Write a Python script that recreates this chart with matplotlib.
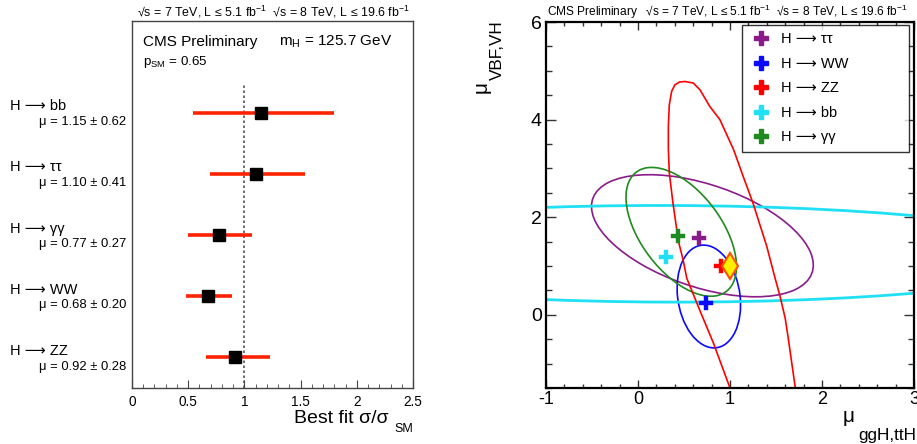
import numpy as np
import matplotlib
matplotlib.use('Agg')
import matplotlib.pyplot as plt
from matplotlib.patches import Ellipse
from matplotlib.lines import Line2D
import matplotlib.transforms as mtransforms
from matplotlib.ticker import MultipleLocator, FormatStrFormatter

plt.rcParams['font.family'] = ['Liberation Sans', 'DejaVu Sans']
plt.rcParams['mathtext.fontset'] = 'custom'
plt.rcParams['mathtext.rm'] = 'Liberation Sans'
plt.rcParams['mathtext.it'] = 'Liberation Sans:italic'
plt.rcParams['mathtext.bf'] = 'Liberation Sans:bold'
plt.rcParams['axes.unicode_minus'] = False

# ---------------- Left panel data ----------------
channels = ['H ⟶ bb', 'H ⟶ ττ', 'H ⟶ γγ', 'H ⟶ WW', 'H ⟶ ZZ']
mu_best = [1.15, 1.10, 0.77, 0.68, 0.92]
mu_err_lo = [0.61, 0.41, 0.27, 0.20, 0.26]
mu_err_hi = [0.65, 0.44, 0.30, 0.21, 0.31]
mu_labels = ['μ = 1.15 ± 0.62', 'μ = 1.10 ± 0.41', 'μ = 0.77 ± 0.27',
             'μ = 0.68 ± 0.20', 'μ = 0.92 ± 0.28']
sm_value = 1.0
x_ticks_left = [0, 0.5, 1, 1.5, 2, 2.5]

# ---------------- Right panel data ----------------
leg_names = ['H ⟶ ττ', 'H ⟶ WW', 'H ⟶ ZZ', 'H ⟶ bb', 'H ⟶ γγ']
leg_colors = ['#8b1a8b', '#0a0aff', '#ff0000', '#20e0f5', '#1f8a1f']
best_ggh = [0.66, 0.74, 0.90, 0.30, 0.44]
best_vbf = [1.57, 0.24, 1.01, 1.19, 1.62]
sm_point = (1.0, 1.0)

# 68% CL contours approximated as ellipses: (x0, y0, width, height, angle)
ell_tautau = (0.70, 1.62, 2.99, 1.77, -47.2)
ell_ww = (0.77, 0.375, 2.11, 0.68, -86.6)
ell_bb = (0.33, 1.25, 8.94, 1.98, -0.3)
ell_gg = (0.47, 1.70, 2.73, 0.98, -74.2)

# H->ZZ contour, read point by point (open at the bottom)
zz_x = [1.00, 0.82, 0.67, 0.53, 0.49, 0.44, 0.38, 0.34, 0.33, 0.33, 0.34,
        0.366, 0.40, 0.45, 0.51, 0.60, 0.674, 0.78, 0.89, 1.04, 1.15, 1.25,
        1.40, 1.49, 1.54, 1.60, 1.63, 1.71]
zz_y = [-1.5, -0.58, 0.10, 0.75, 1.13, 1.50, 2.29, 2.91, 3.40, 3.86, 4.30,
        4.58, 4.71, 4.77, 4.78, 4.75, 4.61, 4.27, 4.00, 3.38, 2.80, 2.29,
        1.40, 0.75, 0.41, -0.07, -0.44, -1.5]

W, H = 917, 444
def fx(px):
    return px / W
def fy(py):
    return 1 - py / H

fig = plt.figure(figsize=(9.17, 4.44), dpi=100)

# ================= Left panel =================
ax1 = fig.add_axes([fx(132), fy(388), fx(413) - fx(132), fy(21) - fy(388)])
rows = np.arange(len(channels))[::-1]
for r, m, lo, hi in zip(rows, mu_best, mu_err_lo, mu_err_hi):
    ax1.plot([m - lo, m + hi], [r, r], color='#ff2200', lw=2.6,
             solid_capstyle='butt', zorder=2)
ax1.plot(mu_best, rows, 's', color='black', ms=8, zorder=3)
ax1.plot([sm_value, sm_value], [-0.5, 4.47], ls=(0, (1.5, 1.5)),
         color='#555555', lw=1.2, zorder=1)
ax1.set_xlim(0, 2.5)
ax1.set_ylim(-0.5, 5.5)
ax1.set_yticks([])
ax1.set_xticks(x_ticks_left)
ax1.xaxis.set_minor_locator(MultipleLocator(0.1))
ax1.xaxis.set_major_formatter(FormatStrFormatter('%g'))
ax1.tick_params(axis='x', which='both', direction='in', top=False,
                labelsize=9.8, pad=5, color='#444444')
ax1.tick_params(axis='x', which='major', length=6)
ax1.tick_params(axis='x', which='minor', length=3)
for sp in ax1.spines.values():
    sp.set_color('#444444')
    sp.set_linewidth(1.0)

trans = mtransforms.blended_transform_factory(fig.transFigure, ax1.transData)
for r, name, lab in zip(rows, channels, mu_labels):
    ax1.text(fx(10), r + 0.04, name, transform=trans, ha='left',
             va='baseline', fontsize=10.5)
    ax1.text(fx(126), r - 0.20, lab, transform=trans, ha='right',
             va='baseline', fontsize=9.4)

fig.text(fx(143), fy(46), 'CMS Preliminary', fontsize=11, va='baseline')
fig.text(fx(279), fy(46), r'm$_{\mathrm{H}}$ = 125.7 GeV', fontsize=11,
         va='baseline')
fig.text(fx(143), fy(65), r'p$_{\mathrm{SM}}$ = 0.65', fontsize=9.6,
         va='baseline')
fig.text(fx(137), fy(16),
         r'√s = 7 TeV, L ≤ 5.1 fb$^{-1}$  √s = 8 TeV, L ≤ 19.6 fb$^{-1}$',
         fontsize=8.9, va='baseline')
fig.text(fx(389), fy(423), 'Best fit σ/σ', fontsize=14, ha='right',
         va='baseline')
fig.text(fx(413), fy(431.5), 'SM', fontsize=9, ha='right', va='baseline')

# ================= Right panel =================
ax2 = fig.add_axes([fx(546), fy(388), fx(914) - fx(546), fy(22) - fy(388)])
ax2.set_xlim(-1, 3)
ax2.set_ylim(-1.5, 6)

ellipses = [ell_tautau, ell_ww, None, ell_bb, ell_gg]
for e, c in zip(ellipses, leg_colors):
    if e is None:
        continue
    lw = 2.0 if c == '#20e0f5' else 1.2
    ax2.add_patch(Ellipse((e[0], e[1]), e[2], e[3], angle=e[4],
                          fill=False, edgecolor=c, lw=lw, zorder=2))
ax2.plot(zz_x, zz_y, color='#ff0000', lw=1.2, zorder=2)

for gx, vy, c in zip(best_ggh, best_vbf, leg_colors):
    ax2.plot(gx, vy, 'P', color=c, ms=9.5, mec=c, mew=0.3, zorder=4)
ax2.plot(sm_point[0], sm_point[1], 'd', ms=13, mfc='#ffee00',
         mec='#ff5000', mew=1.5, zorder=5)

ax2.xaxis.set_major_locator(MultipleLocator(1))
ax2.xaxis.set_minor_locator(MultipleLocator(0.2))
ax2.yaxis.set_major_locator(MultipleLocator(2))
ax2.yaxis.set_minor_locator(MultipleLocator(0.5))
ax2.tick_params(which='both', direction='in', top=True, right=True,
                color='#333333', width=1.0)
ax2.tick_params(axis='x', which='major', length=6, labelsize=13, pad=2)
ax2.tick_params(axis='x', which='minor', length=3.2)
ax2.tick_params(axis='y', which='major', length=7.5, labelsize=14, pad=3)
ax2.tick_params(axis='y', which='minor', length=4.3)
for sp in ax2.spines.values():
    sp.set_linewidth(1.6)
    sp.set_color('black')

handles = [Line2D([], [], marker='P', ls='none', color=c, ms=9.5)
           for c in leg_colors]
leg = ax2.legend(handles, leg_names, loc='upper left',
                 bbox_to_anchor=(0.533, 0.65, 0.453, 0.342), mode='expand',
                 fontsize=10.5, frameon=True, fancybox=False,
                 labelspacing=0.72, handlelength=1.6, handletextpad=0.55,
                 borderpad=0.5, borderaxespad=0.0)
leg.get_frame().set_edgecolor('black')
leg.get_frame().set_linewidth(1.0)
leg.set_zorder(10)

fig.text(fx(547), fy(16),
         r'CMS Preliminary   √s = 7 TeV, L ≤ 5.1 fb$^{-1}$  √s = 8 TeV, L ≤ 19.6 fb$^{-1}$',
         fontsize=8.6, va='baseline')

# axis labels (μ + large, dropped subscript as in the reference)
fig.text(fx(843), fy(422), 'μ', fontsize=15, ha='left', va='baseline')
fig.text(fx(916), fy(439.5), 'ggH,ttH', fontsize=12.3, ha='right',
         va='baseline')
fig.text(fx(487), fy(93), 'μ', fontsize=15, ha='left', va='baseline',
         rotation=90, rotation_mode='anchor')
fig.text(fx(502), fy(20), 'VBF,VH', fontsize=12.3, ha='right', va='baseline',
         rotation=90, rotation_mode='anchor')

fig.savefig('out.png', dpi=100)
